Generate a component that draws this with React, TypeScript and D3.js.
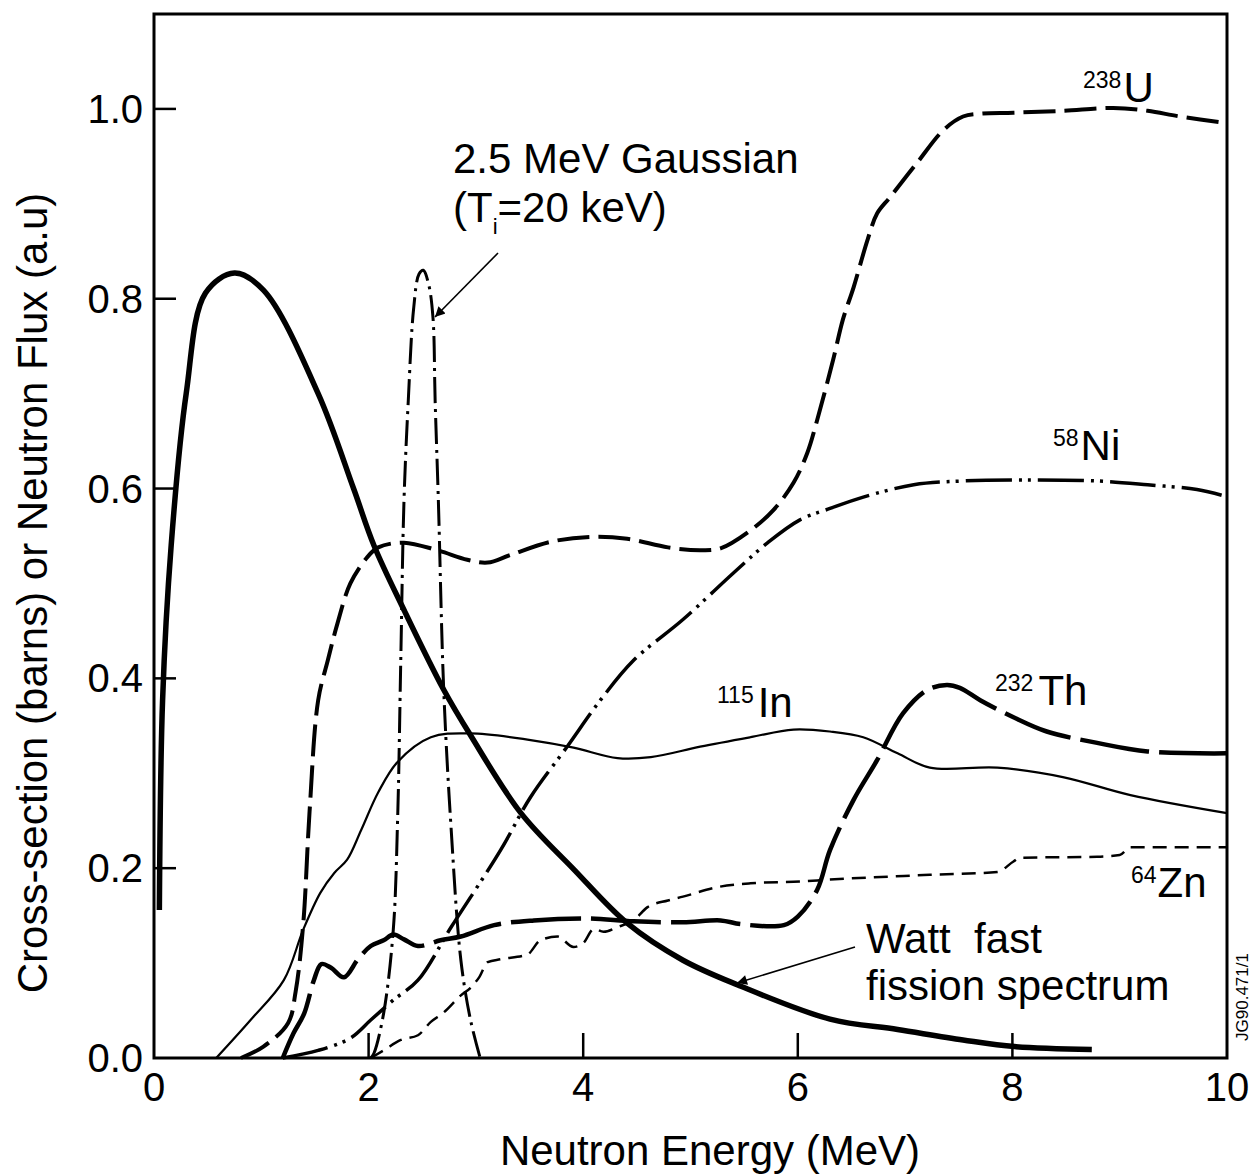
import React, { useRef, useEffect } from 'react';
import * as d3 from 'd3';

// Watt fast fission spectrum
const wattE = [0.05, 0.08, 0.16, 0.30, 0.48, 0.75, 1.02, 1.53, 1.86, 2.05, 2.33, 2.70, 2.95, 3.42, 3.91, 4.41, 4.93, 5.44, 6.30, 6.93, 7.54, 8.02, 8.74];
const wattF = [0.156, 0.377, 0.540, 0.700, 0.806, 0.827, 0.809, 0.700, 0.600, 0.540, 0.472, 0.388, 0.340, 0.258, 0.199, 0.142, 0.103, 0.077, 0.041, 0.030, 0.019, 0.012, 0.009];

// 2.5 MeV Gaussian (Ti = 20 keV)
const gaussE = [2.02, 2.05, 2.14, 2.23, 2.27, 2.30, 2.33, 2.37, 2.42, 2.47, 2.51, 2.56, 2.60, 2.62, 2.65, 2.70, 2.77, 2.86, 2.95, 3.04];
const gaussF = [0, 0.005, 0.047, 0.135, 0.25, 0.42, 0.588, 0.693, 0.79, 0.826, 0.830, 0.815, 0.78, 0.693, 0.588, 0.388, 0.24, 0.103, 0.040, 0];

// 238U
const uE = [0.81, 1.02, 1.25, 1.32, 1.39, 1.45, 1.53, 1.62, 1.71, 1.83, 1.99, 2.09, 2.33, 2.64, 2.92, 3.11, 3.32, 3.70, 4.07, 4.41, 4.79, 5.09, 5.28, 5.56, 5.77, 5.96, 6.09, 6.18, 6.33, 6.42, 6.52, 6.65, 6.74, 6.86, 7.11, 7.36, 7.54, 7.70, 8.01, 8.47, 8.94, 9.26, 9.56, 10.0];
const uS = [0, 0.012, 0.037, 0.070, 0.140, 0.260, 0.377, 0.419, 0.458, 0.500, 0.528, 0.538, 0.543, 0.535, 0.525, 0.522, 0.530, 0.544, 0.549, 0.547, 0.538, 0.535, 0.537, 0.556, 0.577, 0.606, 0.638, 0.672, 0.736, 0.778, 0.812, 0.862, 0.890, 0.907, 0.943, 0.978, 0.992, 0.995, 0.996, 0.998, 1.001, 0.998, 0.992, 0.985];

// 232Th
const thE = [1.20, 1.30, 1.40, 1.49, 1.56, 1.65, 1.77, 1.90, 2.02, 2.14, 2.23, 2.33, 2.46, 2.67, 2.86, 3.17, 3.54, 4.04, 4.47, 4.93, 5.28, 5.47, 5.87, 6.00, 6.18, 6.30, 6.52, 6.74, 6.98, 7.21, 7.39, 7.51, 7.70, 8.01, 8.32, 8.79, 9.26, 10.0];
const thS = [0, 0.026, 0.047, 0.082, 0.099, 0.095, 0.085, 0.104, 0.118, 0.124, 0.130, 0.125, 0.118, 0.124, 0.128, 0.140, 0.145, 0.147, 0.144, 0.143, 0.145, 0.141, 0.140, 0.149, 0.177, 0.219, 0.272, 0.314, 0.363, 0.388, 0.393, 0.390, 0.377, 0.359, 0.344, 0.332, 0.323, 0.321];

// 115In
const inE = [0.58, 0.90, 1.21, 1.39, 1.55, 1.68, 1.80, 1.93, 2.09, 2.27, 2.58, 2.95, 3.51, 3.91, 4.32, 4.63, 5.09, 5.56, 5.96, 6.30, 6.61, 6.93, 7.23, 7.86, 8.47, 9.10, 10.0];
const inS = [0, 0.040, 0.082, 0.135, 0.174, 0.195, 0.209, 0.240, 0.280, 0.312, 0.338, 0.342, 0.335, 0.327, 0.316, 0.317, 0.328, 0.338, 0.346, 0.344, 0.338, 0.321, 0.306, 0.306, 0.296, 0.277, 0.258];

// 58Ni
const niE = [1.20, 1.53, 1.83, 2.02, 2.23, 2.46, 2.77, 3.23, 3.51, 3.85, 4.16, 4.47, 4.93, 5.40, 5.72, 6.02, 6.30, 6.61, 7.08, 7.54, 8.17, 8.79, 9.26, 9.72, 9.95];
const niS = [0, 0.008, 0.021, 0.040, 0.061, 0.082, 0.138, 0.219, 0.275, 0.328, 0.377, 0.419, 0.462, 0.511, 0.543, 0.567, 0.579, 0.591, 0.604, 0.608, 0.609, 0.608, 0.604, 0.599, 0.593];

// 64Zn
const znE = [2.02, 2.14, 2.30, 2.46, 2.58, 2.70, 2.86, 2.95, 3.03, 3.11, 3.23, 3.48, 3.60, 3.76, 3.91, 4.00, 4.10, 4.19, 4.32, 4.47, 4.60, 4.79, 4.93, 5.25, 5.56, 6.02, 6.30, 7.23, 7.86, 8.01, 8.07, 8.79, 9.00, 9.10, 9.40, 10.0];
const znS = [0, 0.008, 0.019, 0.024, 0.038, 0.048, 0.066, 0.074, 0.085, 0.101, 0.104, 0.109, 0.124, 0.128, 0.117, 0.121, 0.136, 0.133, 0.138, 0.145, 0.159, 0.166, 0.170, 0.180, 0.184, 0.186, 0.188, 0.193, 0.196, 0.207, 0.211, 0.212, 0.214, 0.222, 0.222, 0.222];

const xTicks = [0, 2, 4, 6, 8, 10];
const yTicks = [0, 0.2, 0.4, 0.6, 0.8, 1.0];

const FONT = '"Liberation Sans", Arial, Helvetica, sans-serif';

const App: React.FC = () => {
  const ref = useRef<SVGSVGElement | null>(null);

  useEffect(() => {
    if (!ref.current) return;
    const svg = d3.select(ref.current);
    svg.selectAll('*').remove();

    const x = d3.scaleLinear().domain([0, 10]).range([154, 1227]);
    const y = d3.scaleLinear().domain([0, 1.1]).range([1058, 14]);

    const defs = svg.append('defs');
    defs.append('marker')
      .attr('id', 'arrow')
      .attr('viewBox', '0 0 10 10')
      .attr('refX', 10).attr('refY', 5)
      .attr('markerWidth', 18).attr('markerHeight', 10)
      .attr('markerUnits', 'userSpaceOnUse')
      .attr('orient', 'auto')
      .append('path')
      .attr('d', 'M0,0 L10,5 L0,10 z')
      .attr('fill', '#000');

    // Frame
    svg.append('rect')
      .attr('x', x(0)).attr('y', y(1.1))
      .attr('width', x(10) - x(0)).attr('height', y(0) - y(1.1))
      .attr('fill', 'none').attr('stroke', '#000').attr('stroke-width', 3);

    // Ticks (drawn inside the frame)
    svg.append('g').selectAll('line').data(yTicks.slice(1)).enter().append('line')
      .attr('x1', x(0)).attr('x2', x(0) + 22)
      .attr('y1', d => y(d)).attr('y2', d => y(d))
      .attr('stroke', '#000').attr('stroke-width', 2.5);
    svg.append('g').selectAll('line').data(xTicks.slice(1, -1)).enter().append('line')
      .attr('x1', d => x(d)).attr('x2', d => x(d))
      .attr('y1', y(0)).attr('y2', y(0) - 25)
      .attr('stroke', '#000').attr('stroke-width', 2.5);

    // Tick labels
    svg.append('g').selectAll('text').data(yTicks).enter().append('text')
      .attr('x', 143).attr('y', d => y(d) + 14)
      .attr('text-anchor', 'end')
      .attr('font-family', FONT).attr('font-size', 40)
      .text(d => d.toFixed(1));
    svg.append('g').selectAll('text').data(xTicks).enter().append('text')
      .attr('x', d => x(d)).attr('y', 1101)
      .attr('text-anchor', 'middle')
      .attr('font-family', FONT).attr('font-size', 40)
      .text(d => String(d));

    // Axis titles
    svg.append('text')
      .attr('x', 710).attr('y', 1165)
      .attr('text-anchor', 'middle')
      .attr('font-family', FONT).attr('font-size', 42)
      .text('Neutron Energy (MeV)');
    svg.append('text')
      .attr('transform', 'translate(47,593) rotate(-90)')
      .attr('text-anchor', 'middle')
      .attr('font-family', FONT).attr('font-size', 42)
      .text('Cross-section (barns) or Neutron Flux (a.u)');

    // Curves
    const smooth = d3.line<[number, number]>()
      .x(d => x(d[0]))
      .y(d => y(d[1]))
      .curve(d3.curveCatmullRom.alpha(0.5));
    const stepped = d3.line<[number, number]>()
      .x(d => x(d[0]))
      .y(d => y(d[1]))
      .curve(d3.curveMonotoneX);

    const series = [
      { e: inE, v: inS, w: 2.2, dash: null, gen: smooth },
      { e: znE, v: znS, w: 2.5, dash: '14,8', gen: stepped },
      { e: niE, v: niS, w: 3.5, dash: '46,7,3,6,3,7', gen: smooth },
      { e: thE, v: thS, w: 4.5, dash: '70,10', gen: smooth },
      { e: uE, v: uS, w: 4, dash: '32,9', gen: smooth },
      { e: gaussE, v: gaussF, w: 3, dash: '26,6,3,6', gen: smooth },
      { e: wattE, v: wattF, w: 5.5, dash: null, gen: smooth },
    ];

    series.forEach(s => {
      const pts = s.e.map((e, i) => [e, s.v[i]] as [number, number]);
      svg.append('path')
        .datum(pts)
        .attr('fill', 'none')
        .attr('stroke', '#000')
        .attr('stroke-width', s.w)
        .attr('stroke-dasharray', s.dash)
        .attr('stroke-linejoin', 'round')
        .attr('d', s.gen);
    });

    // Curve labels with mass-number superscripts
    const iso = (px: number, py: number, mass: string, sym: string, gap: number) => {
      const t = svg.append('text')
        .attr('x', px).attr('y', py)
        .attr('font-family', FONT);
      t.append('tspan').attr('font-size', 23).attr('dy', -14).text(mass);
      t.append('tspan').attr('font-size', 42).attr('dy', 14).attr('dx', gap).text(sym);
    };
    iso(1083, 102, '238', 'U', 2);
    iso(1053, 460, '58', 'Ni', 2);
    iso(995, 705, '232', 'Th', 5);
    iso(717, 717, '115', 'In', 4);
    iso(1131, 897, '64', 'Zn', 1);

    // Gaussian annotation
    svg.append('text')
      .attr('x', 453).attr('y', 173)
      .attr('font-family', FONT).attr('font-size', 42)
      .text('2.5 MeV Gaussian');
    const g2 = svg.append('text')
      .attr('x', 453).attr('y', 222)
      .attr('font-family', FONT).attr('font-size', 42);
    g2.append('tspan').text('(T');
    g2.append('tspan').attr('font-size', 22).attr('dy', 12).text('i');
    g2.append('tspan').attr('dy', -12).text('=20 keV)');
    svg.append('line')
      .attr('x1', 498).attr('y1', 253).attr('x2', 435).attr('y2', 317)
      .attr('stroke', '#000').attr('stroke-width', 1.6)
      .attr('marker-end', 'url(#arrow)');

    // Watt annotation
    svg.append('text')
      .attr('x', 866).attr('y', 953)
      .attr('font-family', FONT).attr('font-size', 42)
      .style('white-space', 'pre')
      .text('Watt  fast');
    svg.append('text')
      .attr('x', 866).attr('y', 1000)
      .attr('font-family', FONT).attr('font-size', 42)
      .text('fission spectrum');
    svg.append('line')
      .attr('x1', 855).attr('y1', 947).attr('x2', 737).attr('y2', 983)
      .attr('stroke', '#000').attr('stroke-width', 1.6)
      .attr('marker-end', 'url(#arrow)');

    // Figure reference
    svg.append('text')
      .attr('transform', 'translate(1248,997) rotate(-90)')
      .attr('text-anchor', 'middle')
      .attr('font-family', FONT).attr('font-size', 17)
      .text('JG90.471/1');
  }, []);

  return (
    <svg
      ref={ref}
      width={1255}
      height={1176}
      style={{ position: 'absolute', left: 0, top: 0, background: '#fff' }}
    />
  );
};

export default App;
